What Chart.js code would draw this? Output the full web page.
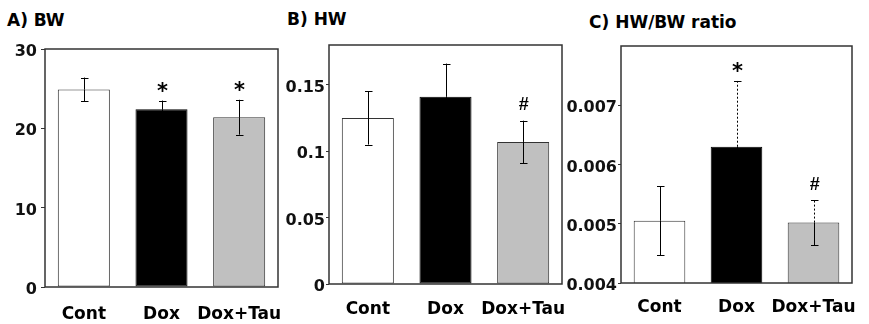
<!DOCTYPE html>
<html>
<head>
<meta charset="utf-8">
<script src="https://cdn.jsdelivr.net/npm/chart.js@4.4.1/dist/chart.umd.min.js"></script>
<style>
  body { margin: 0; background: #fff; }
  #wrap { position: relative; width: 869px; height: 324px; overflow: hidden; }
  canvas { position: absolute; top: 0; }
  .title { position: absolute; font: bold 17px "DejaVu Sans"; line-height: 20px; color: #000; white-space: nowrap; }
</style>
</head>
<body>
<div id="wrap">
  <div class="title" style="left:7px;top:10px">A) BW</div>
  <div class="title" style="left:287px;top:9px">B) HW</div>
  <div class="title" style="left:589px;top:12px">C) HW/BW ratio</div>
  <canvas id="chartA" width="284" height="324" style="left:0"></canvas>
  <canvas id="chartB" width="286" height="324" style="left:284px"></canvas>
  <canvas id="chartC" width="307" height="324" style="left:562px"></canvas>
</div>
<script>
const groups = ['Cont', 'Dox', 'Dox+Tau'];

// A) body weight
const bwMean = [24.9, 22.4, 21.4];
const bwSD = [1.5, 1.1, 2.2];
const bwMarks = ['', '*', '*'];

// B) heart weight
const hwMean = [0.125, 0.141, 0.107];
const hwSD = [0.020, 0.025, 0.016];
const hwMarks = ['', '', '#'];

// C) HW/BW ratio
const ratioMean = [0.00505, 0.0063, 0.00502];
const ratioSD = [0.00058, 0.00111, 0.00038];
const ratioMarks = ['', '*', '#'];

const barColors = ['#ffffff', '#000000', '#c0c0c0'];
const font = 'DejaVu Sans';

// error bars + significance marks, drawn on top of the bars
const errorBars = {
  id: 'errorBars',
  afterDatasetsDraw(chart) {
    const ctx = chart.ctx;
    const y = chart.scales.y;
    const ds = chart.data.datasets[0];
    const dash = chart.options.plugins.errorBars.dash || [];
    const meta = chart.getDatasetMeta(0);
    ctx.save();
    ctx.strokeStyle = '#000';
    ctx.lineWidth = 1;
    meta.data.forEach((bar, i) => {
      const x = Math.round(bar.x) + 0.5;
      const mid = y.getPixelForValue(ds.data[i]);
      const top = y.getPixelForValue(ds.data[i] + ds.sd[i]);
      const bot = y.getPixelForValue(ds.data[i] - ds.sd[i]);
      ctx.beginPath();
      ctx.setLineDash(dash[i] ? [2, 2] : []);
      ctx.moveTo(x, mid); ctx.lineTo(x, top);
      ctx.stroke();
      ctx.setLineDash([]);
      ctx.beginPath();
      ctx.moveTo(x, mid); ctx.lineTo(x, bot);
      ctx.moveTo(x - 3.5, Math.round(top) + 0.5); ctx.lineTo(x + 4, Math.round(top) + 0.5);
      ctx.moveTo(x - 3.5, Math.round(bot) + 0.5); ctx.lineTo(x + 4, Math.round(bot) + 0.5);
      ctx.stroke();

      const m = ds.marks[i];
      if (m) {
        ctx.fillStyle = '#000';
        ctx.textAlign = 'center';
        ctx.textBaseline = 'alphabetic';
        if (m === '*') {
          ctx.font = 'bold 21px "' + font + '"';
          ctx.fillText(m, x, top - 14.5 + 12);
        } else {
          ctx.font = 'italic bold 18px "Liberation Sans"';
          ctx.fillText(m, x, top - 17 + 6.5);
        }
      }
    });
    ctx.restore();
  }
};

const frame = {
  id: 'frame',
  afterDatasetsDraw(chart) {
    const { ctx, chartArea: a } = chart;
    ctx.save();
    ctx.strokeStyle = '#333';
    ctx.lineWidth = 1.5;
    ctx.strokeRect(a.left, a.top, a.right - a.left, a.bottom - a.top);
    ctx.restore();
  }
};

function makePanel(id, means, sds, marks, p) {
  return new Chart(document.getElementById(id), {
    type: 'bar',
    data: {
      labels: groups,
      datasets: [{
        data: means,
        sd: sds,
        marks: marks,
        backgroundColor: barColors,
        borderColor: ['#333', '#000', '#333'],
        borderWidth: 1,
        borderSkipped: false,
        barPercentage: 0.67,
        categoryPercentage: 1
      }]
    },
    options: {
      responsive: false,
      animation: false,
      events: [],
      layout: { padding: { left: 0, right: p.right, top: p.top, bottom: 0 } },
      plugins: {
        legend: { display: false },
        tooltip: { enabled: false },
        errorBars: { dash: p.dash }
      },
      scales: {
        x: {
          afterFit: s => { s.height = p.xHeight; s.paddingLeft = 0; s.paddingRight = 0; },
          border: { display: false },
          grid: { display: false },
          ticks: {
            padding: p.xPad,
            maxRotation: 0,
            minRotation: 0,
            autoSkip: false,
            color: '#000',
            font: { family: font, weight: 'bold', size: 17 }
          }
        },
        y: {
          min: p.min, max: p.max,
          afterFit: s => { s.width = p.yWidth; },
          border: { display: false },
          grid: { drawOnChartArea: false, tickLength: p.tickLen, color: '#333' },
          ticks: {
            stepSize: p.step,
            padding: p.tickPad,
            labelOffset: 3,
            color: '#111',
            font: { family: font, weight: 'bold', size: 16 },
            callback: p.fmt
          }
        }
      }
    },
    plugins: [errorBars, frame]
  });
}

makePanel('chartA', bwMean, bwSD, bwMarks, {
  min: 0, max: 30, step: 5, top: 49, right: 6, yWidth: 45, xHeight: 37, xPad: 9,
  tickLen: 4, tickPad: 4,
  fmt: v => (Math.round(v) % 10 === 0 ? String(Math.round(v)) : null)
});

makePanel('chartB', hwMean, hwSD, hwMarks, {
  min: 0, max: 0.18, step: 0.05, top: 45, right: 8, yWidth: 45, xHeight: 40, xPad: 7,
  tickLen: 3, tickPad: 1,
  fmt: v => (v > 0.16 ? null : String(+v.toFixed(2)))
});

makePanel('chartC', ratioMean, ratioSD, ratioMarks, {
  min: 0.004, max: 0.008, step: 0.001, top: 46, right: 17, yWidth: 59, xHeight: 41, xPad: 6,
  tickLen: 3, tickPad: 1,
  dash: [false, true, true],
  fmt: v => (v > 0.0075 ? null : v.toFixed(3))
});
</script>
</body>
</html>
